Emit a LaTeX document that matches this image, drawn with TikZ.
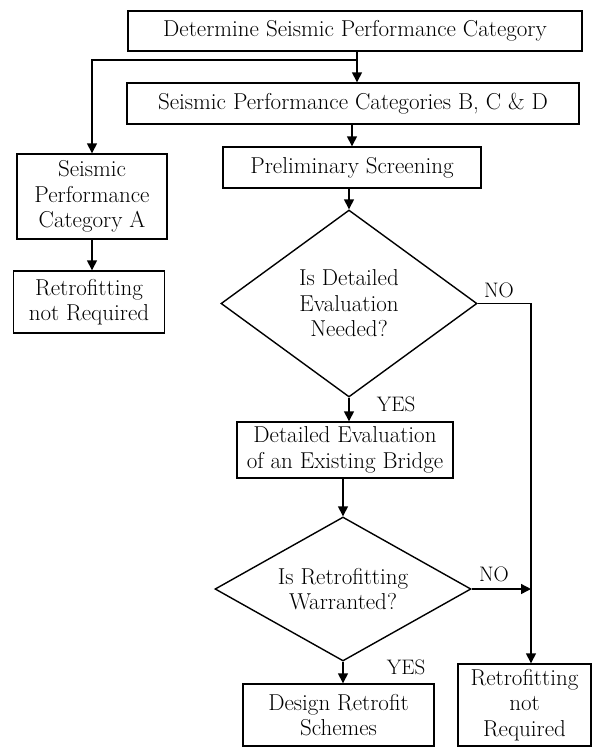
\documentclass[tikz,border=0pt]{standalone}
\usetikzlibrary{arrows.meta,shapes.geometric}
\begin{document}
\begin{tikzpicture}[x=1pt,y=-1pt,
	every node/.style={font=\fontsize{23}{25.5}\selectfont,align=center},
	box/.style={draw,line width=1.4pt,inner sep=0pt},
	choice/.style={draw,diamond,line width=1.4pt,inner sep=0pt},
	flow/.style={line width=1.4pt,-{Triangle[length=10pt,width=10pt]}},
	ans/.style={font=\fontsize{21}{24}\selectfont}]
		\useasboundingbox (0,0) rectangle (592,748);
		\node[box,minimum width=454pt,minimum height=40pt] (det) at (355,31) {Determine Seismic Performance Category};
		\node[box,minimum width=452pt,minimum height=41pt] (bcd) at (353,103.5) {Seismic Performance Categories B, C \& D};
		\node[box,minimum width=150pt,minimum height=85pt] (catA) at (92,196.5) {Seismic\\Performance\\Category A};
		\node[box,minimum width=151pt,minimum height=62pt] (notreqA) at (89,302) {Retrofitting\\not Required};
		\node[box,minimum width=258pt,minimum height=41pt] (prelim) at (352,167.5) {Preliminary Screening};
		\node[choice,aspect=1.37,minimum width=256pt,minimum height=187pt] (q1) at (349,303.5) {Is Detailed\\Evaluation\\Needed?};
		\node[box,minimum width=216pt,minimum height=56pt] (deteval) at (345,450) {Detailed Evaluation\\of an Existing Bridge};
		\node[choice,aspect=1.78,minimum width=256pt,minimum height=144pt] (q2) at (343,589) {Is Retrofitting\\Warranted?};
		\node[box,minimum width=191pt,minimum height=62pt] (design) at (338.5,715) {Design Retrofit\\Schemes};
		\node[box,minimum width=133pt,minimum height=82pt] (notreqB) at (524.5,705) {Retrofitting\\not\\Required};
		\node[ans] (no1) at (499,290) {NO};
		\node[ans] (yes1) at (396,404) {YES};
		\node[ans] (no2) at (494,574) {NO};
		\node[ans] (yes2) at (406,667) {YES};
		\coordinate (split) at (357,60);
		\coordinate (rail) at (531,0);
		\draw[flow] (det.south -| split) -- (split |- bcd.north);
		\draw[flow] (split) -- (split -| catA.north) -- (catA.north);
		\draw[flow] (catA.south) -- (catA.south |- notreqA.north);
		\draw[flow] (bcd.south -| prelim.north) -- (prelim.north);
		\draw[flow] (prelim.south -| q1.north) -- (q1.north);
		\draw[flow] (q1.south) -- (q1.south |- deteval.north);
		\draw[flow] (deteval.south -| q2.north) -- (q2.north);
		\draw[flow] (q2.south) -- (q2.south |- design.north);
		\draw[flow] (q1.east) -- (q1.east -| rail) -- (rail |- notreqB.north);
		\draw[flow] (q2.east) -- (q2.east -| rail);
\end{tikzpicture}
\end{document}
